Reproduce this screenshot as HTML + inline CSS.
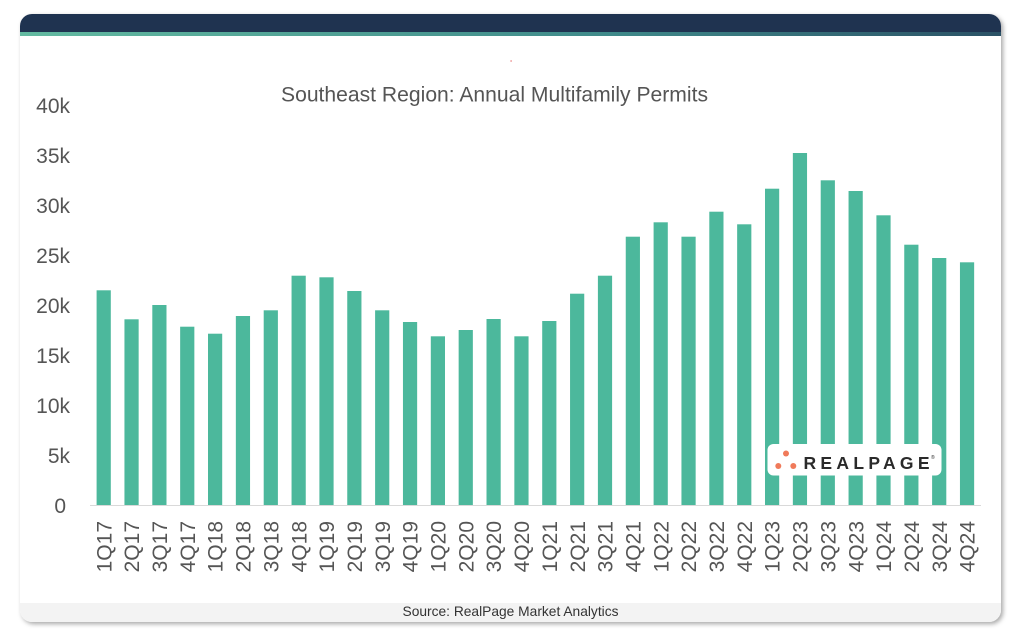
<!DOCTYPE html>
<html>
<head>
<meta charset="utf-8">
<style>
  html,body{margin:0;padding:0;background:#fff;}
  body{width:1020px;height:633px;position:relative;overflow:hidden;font-family:"Liberation Sans",sans-serif;}
  .card{position:absolute;left:20px;top:14px;width:981px;height:608px;border-radius:12px;background:#fff;
        box-shadow:2px 2px 5px rgba(0,0,0,0.35);overflow:hidden;}
  .hdr{position:absolute;left:0;top:0;width:100%;height:18px;background:#1f3350;}
  .tl{position:absolute;left:0;top:18px;width:100%;height:3.5px;background:linear-gradient(to right,#63baa1,#3f8a8a 60%,#2b5266);}
  .ftr{position:absolute;left:0;top:589px;width:100%;height:19px;background:#f3f3f3;}
  svg{position:absolute;left:0;top:0;}
</style>
</head>
<body>
<div class="card">
  <div class="hdr"></div>
  <div class="tl"></div>
  <div class="ftr"></div>
</div>
<svg width="1020" height="633" viewBox="0 0 1020 633" xmlns="http://www.w3.org/2000/svg">
  <rect x="510.5" y="60.5" width="1.2" height="1" fill="#d33"/>
  <text x="281" y="101.5" font-family="Liberation Sans, sans-serif" font-size="21" fill="#555" textLength="427" lengthAdjust="spacingAndGlyphs">Southeast Region: Annual Multifamily Permits</text>

  <g font-family="Liberation Sans, sans-serif" font-size="21" fill="#555" text-anchor="end">
    <text x="70" y="113">40k</text>
    <text x="70" y="163">35k</text>
    <text x="70" y="213">30k</text>
    <text x="70" y="263">25k</text>
    <text x="70" y="313">20k</text>
    <text x="70" y="363">15k</text>
    <text x="70" y="413">10k</text>
    <text x="70" y="463">5k</text>
    <text x="66" y="513">0</text>
  </g>

  <g fill="#4cb89c" id="bars"></g>
  <line x1="90" y1="505.5" x2="981" y2="505.5" stroke="#d9d9d9" stroke-width="1"/>
  <g id="xl" font-family="Liberation Sans, sans-serif" font-size="21" fill="#555" text-anchor="end"></g>

  <!-- logo -->
  <rect x="767.5" y="444" width="174" height="31.5" rx="6" fill="#fff"/>
  <circle cx="786" cy="453.5" r="3" fill="#f07a5a"/>
  <circle cx="778.3" cy="466" r="3" fill="#f07a5a"/>
  <circle cx="793.3" cy="466" r="3" fill="#f07a5a"/>
  <text x="803.5" y="469" font-family="Liberation Sans, sans-serif" font-size="17.5" font-weight="bold" fill="#2a2a2a" textLength="126" lengthAdjust="spacing">REALPAGE</text>
  <text x="931" y="459" font-family="Liberation Sans, sans-serif" font-size="5" fill="#2a2a2a">®</text>

  <text x="510.5" y="616" font-family="Liberation Sans, sans-serif" font-size="13.6" fill="#333" text-anchor="middle" textLength="216" lengthAdjust="spacingAndGlyphs">Source: RealPage Market Analytics</text>
</svg>
<script>
(function(){
  var tops=[290.3,319.3,305,326.7,333.7,316,310.3,275.7,277.3,291,310.3,322,336.3,330,319,336.3,321,293.7,275.7,236.7,222.3,236.7,211.7,224.3,188.7,153,180.3,191,215.3,244.7,258,262.3];
  var labels=[];
  for(var y=17;y<=24;y++){for(var q=1;q<=4;q++){labels.push(q+"Q"+y);}}
  var ns="http://www.w3.org/2000/svg";
  var bars=document.getElementById("bars"), xl=document.getElementById("xl");
  for(var i=0;i<32;i++){
    var left=96.6+i*27.85;
    var r=document.createElementNS(ns,"rect");
    r.setAttribute("x",left.toFixed(2));
    r.setAttribute("y",tops[i]);
    r.setAttribute("width","14.2");
    r.setAttribute("height",(505.5-tops[i]).toFixed(2));
    bars.appendChild(r);
    var t=document.createElementNS(ns,"text");
    var cx=left+7.1+7.6;
    t.setAttribute("transform","translate("+cx.toFixed(2)+",521) rotate(-90)");
    t.textContent=labels[i];
    xl.appendChild(t);
  }
})();
</script>
</body>
</html>
